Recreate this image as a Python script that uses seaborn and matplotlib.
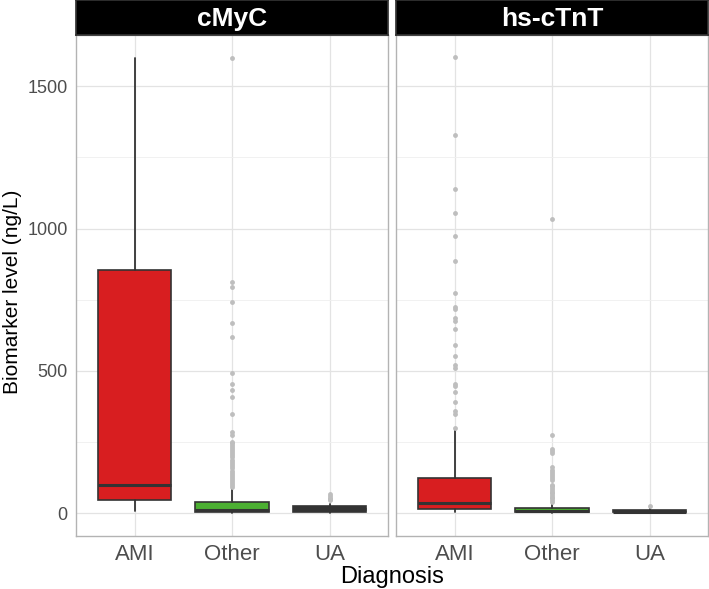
import matplotlib
matplotlib.use("Agg")
import matplotlib.pyplot as plt
import seaborn as sns
from matplotlib.ticker import MultipleLocator

# categories and colours
categories = ["AMI", "Other", "UA"]
box_colors = ["#D81E20", "#4CAF32", "#333333"]
panels = ["cMyC", "hs-cTnT"]

# cMyC box statistics (ng/L)
cmyc_whislo = [8, 2, 2]
cmyc_q1 = [46, 5, 6]
cmyc_med = [98, 13, 15]
cmyc_q3 = [856, 40, 24]
cmyc_whishi = [1598, 88, 32]
cmyc_fliers_ami = []
cmyc_fliers_other = [1600, 812, 793, 742, 670, 619, 492, 453, 433, 408, 347, 284,
                     275, 251, 245, 238, 232, 225, 218, 210, 203, 196, 188, 180,
                     172, 165, 158, 150, 143, 136, 128, 121, 114, 107, 100, 93]
cmyc_fliers_ua = [46, 50, 55, 60, 66]

# hs-cTnT box statistics (ng/L)
tnt_whislo = [5, 1, 1]
tnt_q1 = [14, 3, 3]
tnt_med = [35, 8, 6]
tnt_q3 = [125, 19, 11]
tnt_whishi = [293, 32, 18]
tnt_fliers_ami = [1601, 1330, 1140, 1054, 975, 886, 775, 726, 717, 686, 676, 647,
                  590, 552, 521, 510, 453, 448, 426, 391, 359, 349, 300]
tnt_fliers_other = [1034, 275, 225, 218, 212, 161, 152, 145, 138, 130, 124, 117,
                    100, 94, 88, 82, 76, 70, 64, 58, 52, 46, 40]
tnt_fliers_ua = [24]

y_ticks = [0, 500, 1000, 1500]


def make_stats(whislo, q1, med, q3, whishi, fliers):
    return [
        dict(whislo=whislo[i], q1=q1[i], med=med[i], q3=q3[i], whishi=whishi[i],
             fliers=fliers[i], label=categories[i])
        for i in range(len(categories))
    ]


stats = {
    "cMyC": make_stats(cmyc_whislo, cmyc_q1, cmyc_med, cmyc_q3, cmyc_whishi,
                       [cmyc_fliers_ami, cmyc_fliers_other, cmyc_fliers_ua]),
    "hs-cTnT": make_stats(tnt_whislo, tnt_q1, tnt_med, tnt_q3, tnt_whishi,
                          [tnt_fliers_ami, tnt_fliers_other, tnt_fliers_ua]),
}

sns.set_theme(style="whitegrid")
plt.rcParams["font.family"] = ["Liberation Sans", "DejaVu Sans"]

W, H = 709, 589
fig = plt.figure(figsize=(W / 100, H / 100), dpi=100)

panel_left = [76, 396]
panel_w = 312
panel_top, panel_bottom = 35, 536
strip_h = 35

for k, name in enumerate(panels):
    x0 = panel_left[k]
    ax = fig.add_axes([x0 / W, 1 - panel_bottom / H, panel_w / W,
                       (panel_bottom - panel_top) / H])
    ax.set_facecolor("white")
    bp = ax.bxp(
        stats[name], positions=[1, 2, 3], widths=0.75, patch_artist=True,
        showfliers=True,
        boxprops=dict(edgecolor="#333333", linewidth=1.2),
        whiskerprops=dict(color="#333333", linewidth=1.3),
        capprops=dict(linewidth=0),
        medianprops=dict(color="#333333", linewidth=2.2),
        flierprops=dict(marker="o", markersize=3.5, markerfacecolor="#BEBEBE",
                        markeredgecolor="none", linestyle="none"),
    )
    for patch, c in zip(bp["boxes"], box_colors):
        patch.set_facecolor(c)
    for caps in bp["caps"]:
        caps.set_visible(False)

    ax.set_xlim(0.4, 3.6)
    ax.set_ylim(-80, 1680)
    ax.set_yticks(y_ticks)
    ax.yaxis.set_minor_locator(MultipleLocator(250))
    ax.set_xticks([1, 2, 3])
    ax.set_xticklabels(categories)
    ax.grid(which="major", color="#E3E3E3", linewidth=0.9)
    ax.grid(which="minor", axis="y", color="#EFEFEF", linewidth=0.6)
    ax.set_axisbelow(True)
    for s in ax.spines.values():
        s.set_color("#B3B3B3")
        s.set_linewidth(1.0)
    ax.tick_params(axis="x", labelsize=16, labelcolor="#4D4D4D", length=3,
                   color="#B3B3B3", width=0.8, pad=3)
    ax.tick_params(axis="y", labelsize=13, labelcolor="#4D4D4D", length=3,
                   color="#B3B3B3", width=0.8, pad=3)
    ax.tick_params(axis="y", which="minor", length=0)
    if k == 1:
        ax.set_yticklabels([])
    ax.set_xlabel("")
    ax.set_ylabel("")

    # strip on top of the panel
    sax = fig.add_axes([x0 / W, 1 - panel_top / H, panel_w / W, strip_h / H])
    sax.set_facecolor("black")
    sax.set_xticks([])
    sax.set_yticks([])
    for s in sax.spines.values():
        s.set_color("#333333")
    sax.text(0.5, 0.47, name, color="white", fontsize=19, fontweight="bold",
             ha="center", va="center", transform=sax.transAxes)

fig.text(392 / W, 1 - 577 / H, "Diagnosis", fontsize=17, ha="center",
         va="center", color="black")
fig.text(13 / W, 1 - 292 / H, "Biomarker level (ng/L)", fontsize=15,
         rotation=90, ha="center", va="center", color="black")

fig.savefig("out.png", dpi=100, facecolor="white")
